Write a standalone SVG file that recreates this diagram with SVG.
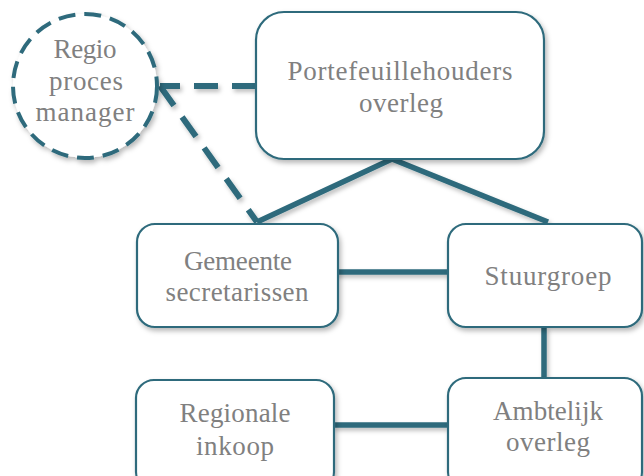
<svg xmlns="http://www.w3.org/2000/svg" width="644" height="476" viewBox="0 0 644 476">
<defs>
<filter id="sh" x="-20%" y="-20%" width="140%" height="140%">
<feDropShadow dx="2" dy="3" stdDeviation="2.5" flood-color="#000" flood-opacity="0.28"/>
</filter>
<filter id="shl" filterUnits="userSpaceOnUse" x="0" y="0" width="644" height="476">
<feDropShadow dx="2" dy="3" stdDeviation="2" flood-color="#000" flood-opacity="0.25"/>
</filter>
<style>
.box{fill:#fff;stroke:#2e6b7c;stroke-width:2.2;filter:url(#sh)}
.circ{fill:#fff;stroke:#2e6b7c;stroke-width:4;stroke-dasharray:17 9;filter:url(#sh)}
.t{font-family:"Liberation Serif","Times New Roman",serif;font-size:27px;fill:#808080;text-anchor:middle}
.c{stroke:#2e6b7c;stroke-width:5.5;fill:none;stroke-linecap:butt}
.d{stroke:#2e6b7c;stroke-width:6;fill:none;stroke-dasharray:24 14}
</style>
</defs>
<rect width="644" height="476" fill="#fff"/>
<g id="connectors" filter="url(#shl)">
<path class="d" d="M256 86 L160 86"/>
<path class="d" d="M160 86 L257 222"/>
<path class="c" d="M257 222 L392 159 L548 222"/>
<path class="c" d="M334 272 L448 272"/>
<path class="c" d="M544 327 L544 378"/>
<path class="c" d="M333 425 L447 425"/>
</g>
<g id="regio">
<circle class="circ" cx="85" cy="86" r="72"/>
<text class="t" x="85" y="58" textLength="63">Regio</text>
<text class="t" x="86" y="90" textLength="74">proces</text>
<text class="t" x="85" y="121" textLength="99">manager</text>
</g>
<g id="portefeuille">
<rect class="box" x="256" y="12" width="288" height="147" rx="28"/>
<text class="t" x="400" y="80" textLength="225">Portefeuillehouders</text>
<text class="t" x="401" y="112" textLength="84">overleg</text>
</g>
<g id="gemeente">
<rect class="box" x="137" y="224" width="201" height="103" rx="18"/>
<text class="t" x="238" y="270" textLength="108">Gemeente</text>
<text class="t" x="237" y="301" textLength="143">secretarissen</text>
</g>
<g id="stuurgroep">
<rect class="box" x="448" y="224" width="194" height="103" rx="18"/>
<text class="t" x="548" y="285" textLength="127">Stuurgroep</text>
</g>
<g id="regionale">
<rect class="box" x="136" y="380" width="198" height="110" rx="18"/>
<text class="t" x="235" y="422" textLength="111">Regionale</text>
<text class="t" x="235" y="455" textLength="78">inkoop</text>
</g>
<g id="ambtelijk">
<rect class="box" x="448" y="378" width="194" height="112" rx="18"/>
<text class="t" x="548" y="420" textLength="110">Ambtelijk</text>
<text class="t" x="548" y="451" textLength="84">overleg</text>
</g>
</svg>
